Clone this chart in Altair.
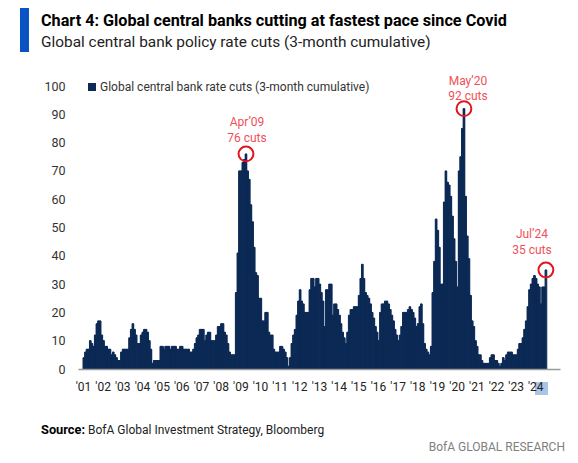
import altair as alt
import pandas as pd

# ---------------- data (monthly, 3-month cumulative cuts) ----------------
v2001 = [4, 6, 7, 7, 10, 9, 8, 12, 16, 17, 17, 12]
v2002 = [10, 8, 8, 7, 7, 5, 6, 5, 4, 3, 3, 6]
v2003 = [7, 7, 7, 7, 11, 14, 16, 14, 12, 9, 9, 12]
v2004 = [13, 14, 14, 13, 10, 7, 2, 3, 3, 3, 3, 8]
v2005 = [8, 7, 8, 8, 8, 7, 8, 8, 8, 7, 7, 8]
v2006 = [8, 7, 7, 7, 7, 6, 6, 7, 9, 11, 12, 14]
v2007 = [14, 14, 10, 12, 13, 13, 10, 10, 10, 12, 15, 15]
v2008 = [16, 16, 13, 12, 9, 6, 5, 5, 5, 27, 41, 70]
v2009 = [70, 73, 74, 76, 70, 67, 58, 52, 43, 34, 33, 25]
v2010 = [25, 17, 17, 20, 20, 13, 12, 12, 7, 6, 6, 6]
v2011 = [8, 8, 7, 6, 4, 1, 4, 9, 12, 14, 19, 24]
v2012 = [28, 24, 23, 20, 20, 20, 28, 32, 32, 29, 32, 32]
v2013 = [30, 27, 24, 15, 28, 28, 30, 30, 19, 23, 23, 21]
v2014 = [19, 16, 13, 11, 9, 13, 19, 21, 21, 22, 22, 22]
v2015 = [26, 32, 37, 32, 27, 26, 25, 23, 20, 18, 15, 13]
v2016 = [10, 20, 23, 23, 24, 24, 23, 21, 19, 17, 14, 12]
v2017 = [10, 12, 15, 20, 20, 20, 21, 22, 21, 20, 18, 15]
v2018 = [16, 22, 23, 16, 9, 7, 6, 5, 8, 27, 38, 53]
v2019 = [49, 43, 30, 30, 59, 70, 66, 65, 61, 54, 46, 38]
v2020 = [29, 70, 75, 85, 92, 61, 47, 39, 26, 17, 15, 10]
v2021 = [8, 5, 5, 3, 2, 2, 2, 2, 4, 5, 5, 3]
v2022 = [3, 2, 1, 2, 4, 3, 5, 6, 6, 6, 5, 5]
v2023 = [5, 7, 9, 9, 11, 14, 17, 22, 28, 30, 32, 33]
v2024 = [32, 30, 29, 23, 29, 29, 35]

values = (v2001 + v2002 + v2003 + v2004 + v2005 + v2006 + v2007 + v2008 + v2009
          + v2010 + v2011 + v2012 + v2013 + v2014 + v2015 + v2016 + v2017 + v2018
          + v2019 + v2020 + v2021 + v2022 + v2023 + v2024)

series_name = "Global central bank rate cuts (3-month cumulative)"
tick_years = list(range(2001, 2025))
y_ticks = list(range(0, 101, 10))

ann_dates = ["2009-04-01", "2020-05-01", "2024-07-01"]
ann_values = [76, 92, 35]
ann_line1 = ["Apr\u201909", "May\u201920", "Jul\u201924"]
ann_line2 = ["76 cuts", "92 cuts", "35 cuts"]

title_text = "Chart 4: Global central banks cutting at fastest pace since Covid"
subtitle_text = "Global central bank policy rate cuts (3-month cumulative)"
source_bold = "Source:"
source_text = "BofA Global Investment Strategy, Bloomberg"
brand_text = "BofA GLOBAL RESEARCH"

# ---------------- styling ----------------
NAVY = "#0c2a55"
RED_TEXT = "#f0505a"
RED_RING = "#e2141e"
FONT = "Roboto"

dates = pd.date_range("2001-01-01", periods=len(values), freq="MS")
df = pd.DataFrame({
    "date": dates,
    "date_end": dates + pd.offsets.MonthBegin(1),
    "cuts": values,
    "series": series_name,
})

x_scale = alt.Scale(domain=[alt.DateTime(year=2001, month=1, date=1),
                            alt.DateTime(year=2025, month=1, date=1)])
y_scale = alt.Scale(domain=[0, 100], nice=False)

X_AXIS = alt.Axis(values=[alt.DateTime(year=y, month=1, date=1) for y in tick_years],
                  format="'%y", labelFont=FONT, labelFontSize=12,
                  labelColor="#222222", domainColor="#9a9a9a", domainWidth=1.5,
                  ticks=False, tickSize=0, grid=False, labelPadding=12,
                  labelOverlap=False, labelFlush=False, zindex=1, title=None)
Y_AXIS = alt.Axis(values=y_ticks, labelFont=FONT,
                  labelFontSize=12.5, labelColor="#333333", domain=False,
                  ticks=False, tickSize=0, grid=False, labelPadding=13,
                  labelOverlap=False, title=None)

xa = alt.X("date:T", scale=x_scale, axis=X_AXIS, title=None)
ya = alt.Y("cuts:Q", scale=y_scale, axis=Y_AXIS, title=None)

# solid step fill underneath the bars, so adjacent monthly bars show no seams
fill_under = alt.Chart(df).mark_area(interpolate="step-after", color=NAVY).encode(
    x=xa, y=ya)

bars = alt.Chart(df).mark_bar(stroke=NAVY, strokeWidth=1, strokeOpacity=1,
                              binSpacing=0, orient="vertical").encode(
    x=xa,
    x2="date_end:T",
    y=ya,
    y2=alt.datum(0),
    color=alt.Color("series:N", scale=alt.Scale(range=[NAVY]),
                    legend=alt.Legend(title=None, orient="none", legendX=8, legendY=-5,
                                      symbolType="square", symbolSize=64,
                                      symbolStrokeWidth=0, symbolOpacity=1,
                                      labelFont=FONT, labelFontSize=12,
                                      labelColor="#333333", labelOffset=2,
                                      padding=0, labelLimit=400)),
)

ann_df = pd.DataFrame({
    "date": pd.to_datetime(ann_dates) + pd.Timedelta(days=15),
    "cuts": ann_values,
    "l1": ann_line1,
    "l2": ann_line2,
})

rings = alt.Chart(ann_df).mark_point(shape="circle", filled=False, size=220,
                                     strokeWidth=2, color=RED_RING, opacity=1).encode(
    x=xa, y=ya)

ann_layers = []
offsets = [(1, -32, -16), (4, -28, -13), (-14, -36, -20)]
for i, (dx, dy1, dy2) in enumerate(offsets):
    sub = ann_df.iloc[[i]]
    for field, dy in (("l1", dy1), ("l2", dy2)):
        ann_layers.append(
            alt.Chart(sub).mark_text(font=FONT, fontSize=12, color=RED_TEXT,
                                     baseline="middle", align="center", dx=dx, dy=dy).encode(
                x=xa, y=ya, text=f"{field}:N"))


def label(txt, x, y, size, color, weight="normal", align="left"):
    return alt.Chart(pd.DataFrame({"t": [txt]})).mark_text(
        font=FONT, fontSize=size, color=color, fontWeight=weight, align=align,
        baseline="alphabetic").encode(text="t:N", x=alt.value(x), y=alt.value(y))


blue_tab = alt.Chart(pd.DataFrame({"k": [1]})).mark_rect(color="#0a53c4").encode(
    x=alt.value(-58), x2=alt.value(-49), y=alt.value(-83), y2=alt.value(-34))

hl = alt.Chart(pd.DataFrame({"k": [1]})).mark_rect(color="#a9c4e4").encode(
    x=alt.value(457), x2=alt.value(470), y=alt.value(296), y2=alt.value(309))

texts = [
    label(title_text, -37, -60, 16.2, "#000000", weight="bold"),
    label(subtitle_text, -37, -39, 15.4, "#222222"),
    label(source_bold, -37, 348, 12.8, "#000000", weight="bold"),
    label(source_text, 10, 348, 12, "#222222"),
    label(brand_text, 487, 365, 12, "#808080", align="right"),
]

chart = alt.layer(hl, fill_under, bars, rings, *ann_layers, blue_tab, *texts).properties(
    width=482, height=283,
    autosize=alt.AutoSizeParams(type="none"),
    padding={"left": 70, "top": 78, "right": 8, "bottom": 84},
    background="white",
).configure_view(stroke=None)

chart.save("out.html", embed_options={"renderer": "svg", "actions": False})
